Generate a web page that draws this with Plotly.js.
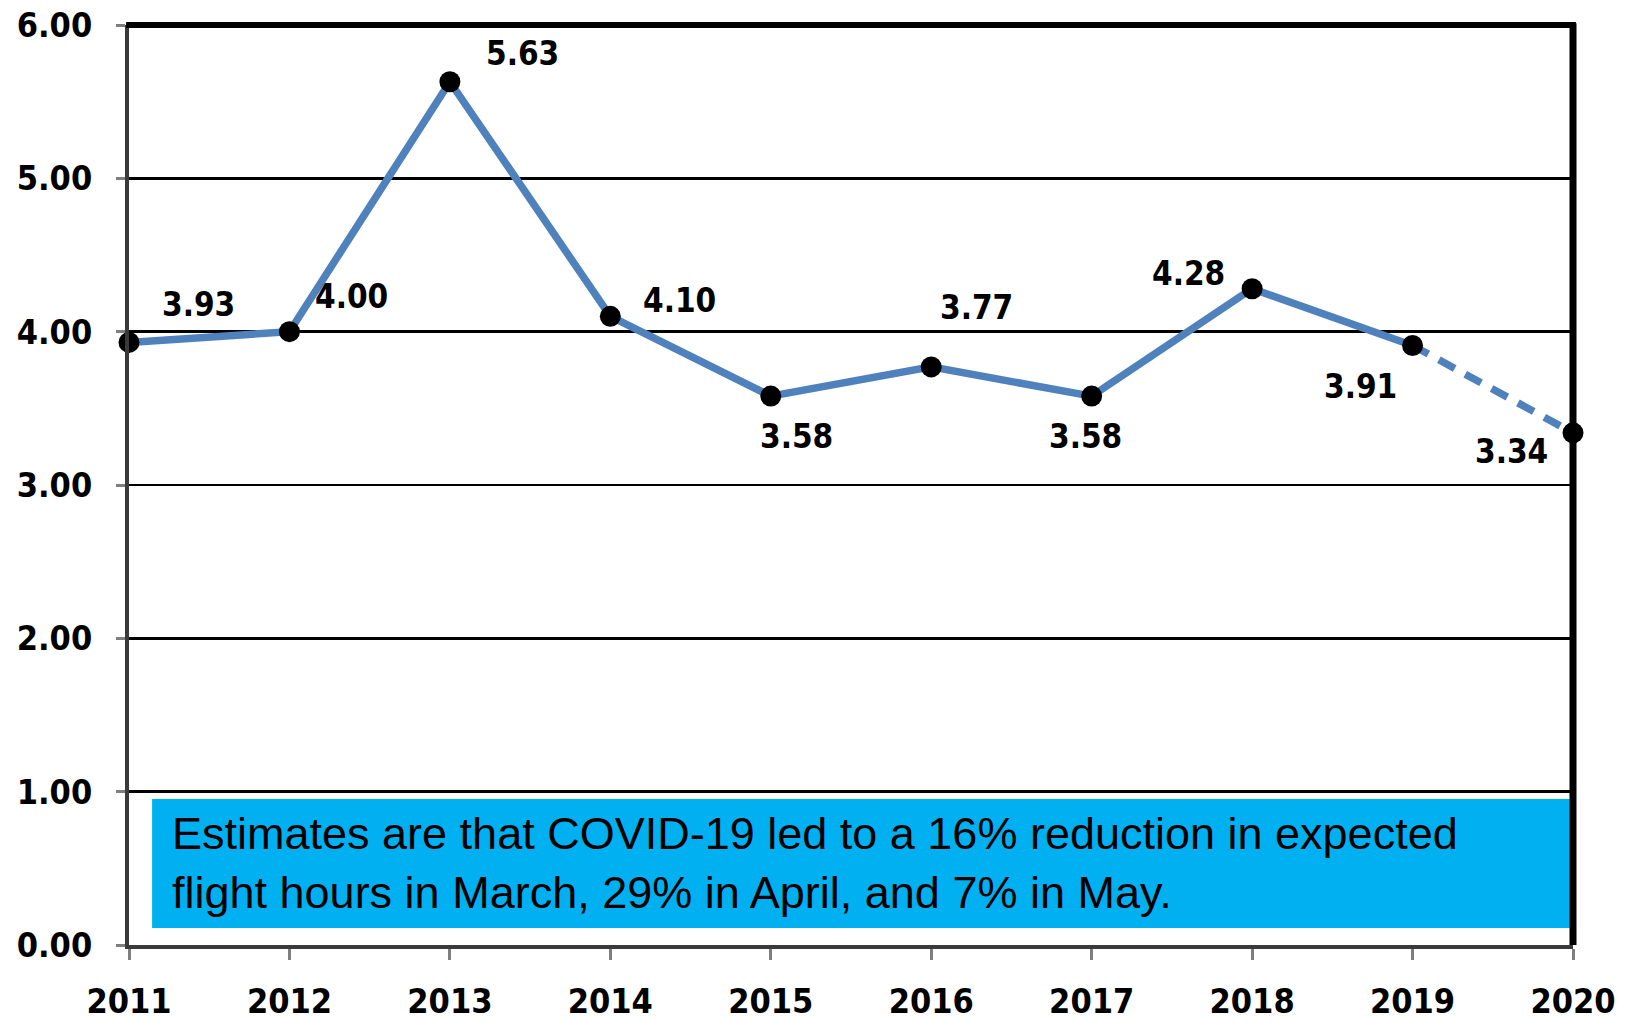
<!DOCTYPE html>
<html>
<head>
<meta charset="utf-8">
<script src="https://cdn.plot.ly/plotly-3.0.1.min.js"></script>
<style>html,body{margin:0;padding:0;background:#fff;}#chart{width:1635px;height:1021px;}</style>
</head>
<body>
<div id="chart"></div>
<script>
const years = [2011, 2012, 2013, 2014, 2015, 2016, 2017, 2018, 2019, 2020];
const values = [3.93, 4.00, 5.63, 4.10, 3.58, 3.77, 3.58, 4.28, 3.91, 3.34];
const labels = ["3.93", "4.00", "5.63", "4.10", "3.58", "3.77", "3.58", "4.28", "3.91", "3.34"];
const yTickVals = [0, 1, 2, 3, 4, 5, 6];
const yTickText = ["0.00", "1.00", "2.00", "3.00", "4.00", "5.00", "6.00"];
const noteText = "Estimates are that COVID-19 led to a 16% reduction in expected<br>flight hours in March, 29% in April, and 7% in May.";

// label offsets in pixels (ax, ay) relative to each point
const labelOffsets = [[69,-38],[62,-35],[73,-28],[69,-16],[26,40],[45,-59],[-6,40],[-64,-15],[-52,41],[-62,19]];

const lineColor = '#4F81BD';
const solidYears = years.slice(0, 9), solidVals = values.slice(0, 9);
const dashYears = years.slice(8), dashVals = values.slice(8);

const traces = [
  {x: solidYears, y: solidVals, type: 'scatter', mode: 'lines', line: {color: lineColor, width: 7.5}, cliponaxis: false, hoverinfo: 'skip'},
  {x: dashYears, y: dashVals, type: 'scatter', mode: 'lines', line: {color: lineColor, width: 7.5, dash: '18px,12px'}, cliponaxis: false, hoverinfo: 'skip'},
  {x: years, y: values, type: 'scatter', mode: 'markers', marker: {color: '#000', size: 21}, cliponaxis: false, hoverinfo: 'skip'}
];

const tickFont = {family: 'DejaVu Sans Condensed, DejaVu Sans', size: 34, color: '#000', weight: 'bold'};

const annotations = years.map((yr, i) => ({
  x: yr, y: values[i], xref: 'x', yref: 'y', text: '<b>' + labels[i] + '</b>',
  showarrow: true, arrowcolor: 'rgba(0,0,0,0)', ax: labelOffsets[i][0], ay: labelOffsets[i][1],
  font: {family: 'DejaVu Sans Condensed, DejaVu Sans', size: 33, color: '#000'}
}));
annotations.push({
  x: 0.0285, y: 0.089, xref: 'paper', yref: 'paper', xanchor: 'left', yanchor: 'middle', align: 'left',
  text: noteText, showarrow: false,
  font: {family: 'Liberation Sans, Arial', size: 45, color: '#000'}
});

const layout = {
  width: 1635, height: 1021,
  margin: {l: 129, r: 62, t: 25, b: 76},
  paper_bgcolor: '#fff', plot_bgcolor: '#fff',
  showlegend: false,
  xaxis: {
    range: [2011, 2020], tickvals: years, ticktext: years.map(String),
    showgrid: false, zeroline: false,
    showline: true, linecolor: '#3a3a3a', linewidth: 4,
    ticks: 'outside', ticklen: 11, tickwidth: 3, tickcolor: '#7f7f7f',
    tickfont: tickFont, ticklabelstandoff: 12
  },
  yaxis: {
    range: [0, 6], tickvals: yTickVals, ticktext: yTickText,
    showgrid: true, gridcolor: '#000', gridwidth: 2.5, zeroline: false,
    showline: true, linecolor: '#3a3a3a', linewidth: 4,
    ticks: 'outside', ticklen: 9, tickwidth: 3, tickcolor: '#7f7f7f',
    tickfont: tickFont, ticklabelstandoff: 17
  },
  shapes: [
    {type: 'rect', xref: 'paper', yref: 'paper', x0: 0.016, x1: 0.9986, y0: 0.0185, y1: 0.1587,
     fillcolor: '#00B0F0', line: {width: 0}, layer: 'above'},
    {type: 'line', xref: 'paper', yref: 'paper', x0: -0.002, x1: 1.002, y0: 1, y1: 1, line: {color: '#000', width: 6}},
    {type: 'line', xref: 'paper', yref: 'paper', x0: 1, x1: 1, y0: 0, y1: 1.002, line: {color: '#000', width: 7}}
  ],
  annotations: annotations
};

Plotly.newPlot('chart', traces, layout, {displayModeBar: false, staticPlot: true});
</script>
</body>
</html>
